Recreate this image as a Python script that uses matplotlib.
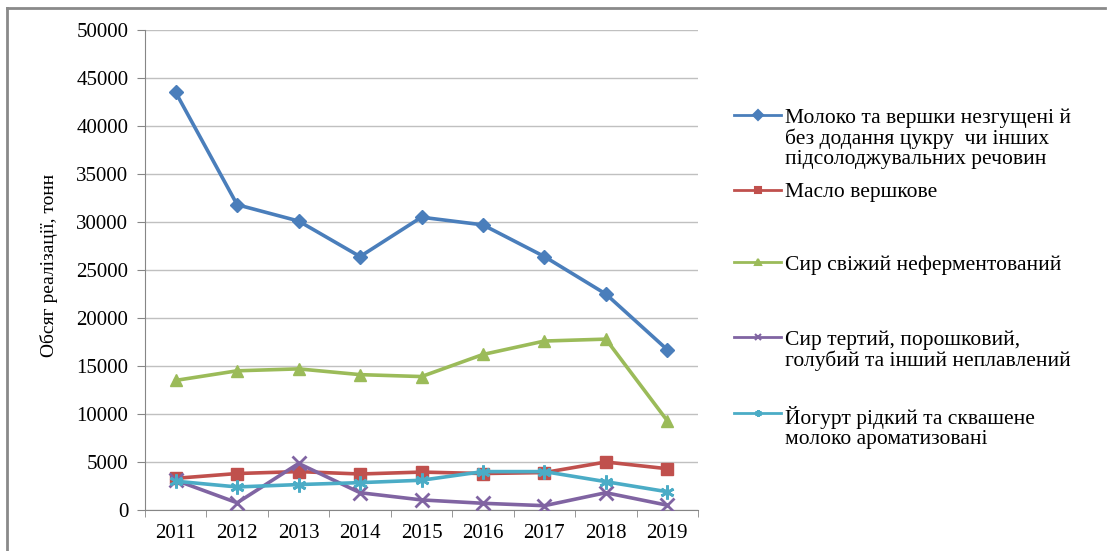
import numpy as np
import matplotlib
matplotlib.use("Agg")
import matplotlib.pyplot as plt
from matplotlib.lines import Line2D

plt.rcParams['font.family'] = ['Liberation Serif', 'DejaVu Serif']

years = ['2011', '2012', '2013', '2014', '2015', '2016', '2017', '2018', '2019']

milk = [43500, 31800, 30100, 26400, 30500, 29700, 26400, 22500, 16700]
butter = [3300, 3800, 4000, 3750, 3950, 3800, 3900, 5000, 4300]
fresh_cheese = [13500, 14500, 14700, 14100, 13900, 16200, 17600, 17800, 9300]
grated_cheese = [3100, 750, 4850, 1800, 1050, 700, 450, 1800, 500]
yogurt = [3000, 2400, 2650, 2850, 3100, 4000, 4000, 2950, 1900]

labels = [
    'Молоко та вершки незгущені й\nбез додання цукру  чи інших\nпідсолоджувальних речовин',
    'Масло вершкове',
    'Сир свіжий неферментований',
    'Сир тертий, порошковий,\nголубий та інший неплавлений',
    'Йогурт рідкий та сквашене\nмолоко ароматизовані',
]
series = [milk, butter, fresh_cheese, grated_cheese, yogurt]
colors = ['#4a7ebb', '#c0504d', '#9bbb59', '#8064a2', '#4bacc6']
markers = ['D', 's', '^', 'x', (6, 2, 0)]
msizes = [7, 9, 9, 10, 10]

fig = plt.figure(figsize=(11.12, 5.51), dpi=100)
ax = fig.add_axes([145 / 1112, 1 - 510 / 551, 553 / 1112, 480 / 551])

x = np.arange(len(years))
for vals, c, m, ms in zip(series, colors, markers, msizes):
    ax.plot(x, vals, color=c, lw=2.6, marker=m, markersize=ms,
            markeredgewidth=2 if m in ('x', (6, 2, 0)) else 1,
            markeredgecolor=c, markerfacecolor=c, zorder=3)

ax.set_xlim(-0.5, len(years) - 0.5)
ax.set_ylim(0, 50000)
ax.set_yticks(np.arange(0, 50001, 5000))
ax.set_xticks(x)
ax.set_xticklabels(years)
ax.set_xticks(np.arange(-0.5, len(years), 1), minor=True)
ax.tick_params(axis='x', which='major', length=0, labelsize=15, pad=10)
ax.tick_params(axis='x', which='minor', length=5, color='#868686')
ax.tick_params(axis='y', length=6, color='#868686', labelsize=15, pad=6)
ax.grid(axis='y', color='#c0c0c0', lw=1)
ax.set_axisbelow(True)
for s in ('top', 'right'):
    ax.spines[s].set_visible(False)
for s in ('left', 'bottom'):
    ax.spines[s].set_color('#868686')
ax.set_ylabel('Обсяг реалізації, тонн', fontsize=14)
ax.yaxis.set_label_coords(-0.157, 0.51)

# legend drawn entry by entry, handle next to the first text line
entry_y = [115, 190, 262, 337, 413]
for lab, c, m, y in zip(labels, colors, markers, entry_y):
    fy = 1 - y / 551
    fig.add_artist(Line2D([734 / 1112, 781 / 1112], [fy, fy], color=c, lw=2,
                          transform=fig.transFigure))
    fig.add_artist(Line2D([757.5 / 1112], [fy], color=c, marker=m,
                          markersize=5, markeredgewidth=1.5,
                          transform=fig.transFigure))
    fig.text(785 / 1112, fy + 7 / 551, lab, fontsize=15.5, va='top', ha='left',
             linespacing=1.08)

# outer frame
fig.add_artist(Line2D([7 / 1112, 7 / 1112], [0, 1 - 8 / 551], color='#8a8a8a',
                      lw=2, transform=fig.transFigure))
fig.add_artist(Line2D([7 / 1112, 1105 / 1112], [1 - 8 / 551, 1 - 8 / 551],
                      color='#8a8a8a', lw=2, transform=fig.transFigure))

fig.savefig('out.png', dpi=100)
